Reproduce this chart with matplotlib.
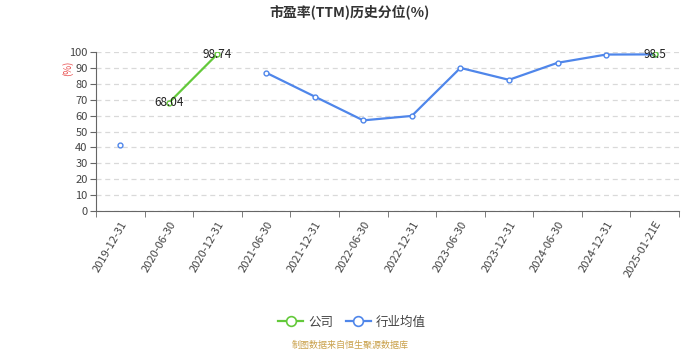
import matplotlib
matplotlib.use("Agg")
import matplotlib.pyplot as plt
import numpy as np

plt.rcParams['font.family'] = ['Noto Sans CJK SC', 'DejaVu Sans']

categories = ["2019-12-31", "2020-06-30", "2020-12-31", "2021-06-30", "2021-12-31",
              "2022-06-30", "2022-12-31", "2023-06-30", "2023-12-31", "2024-06-30",
              "2024-12-31", "2025-01-21E"]
company = [None, 68.04, 98.74, None, None, None, None, None, None, None, None, 98.5]
industry = [41.5, None, None, 87.0, 72.0, 57.0, 59.8, 90.0, 82.5, 93.2, 98.4, 98.5]
company_labels = {1: "68.04", 2: "98.74", 11: "98.5"}
yticks = list(range(0, 101, 10))

green = '#63C93A'
blue = '#4F86EA'

def to_arr(v):
    return np.array([np.nan if x is None else x for x in v], dtype=float)

fig = plt.figure(figsize=(7, 3.5), dpi=100)
ax = fig.add_axes([96/700, 1-211/350, (679-96)/700, (211-52)/350])

x = np.arange(len(categories))
ind = to_arr(industry)
com = to_arr(company)

ax.plot(x, ind, color=blue, lw=1.6, marker='o', ms=3.5, mfc='white', mec=blue, mew=1, zorder=3)
ax.plot(x, com, color=green, lw=1.6, marker='o', ms=3.5, mfc='white', mec=green, mew=1, zorder=4)
for i, t in company_labels.items():
    ax.text(x[i], com[i], t, ha='center', va='center', fontsize=8.5, color='#222222', zorder=5)

ax.set_xlim(-0.5, len(categories)-0.5)
ax.set_ylim(0, 100)
ax.set_yticks(yticks)
ax.set_yticklabels([str(v) for v in yticks], fontsize=8, color='#444444')
ax.set_xticks(x)
ax.set_xticklabels(categories, rotation=60, ha='right', rotation_mode='anchor', fontsize=8, color='#444444')
ax.tick_params(axis='x', length=0, pad=6)
ax.set_xticks(np.arange(-0.5, len(categories)), minor=True)
ax.tick_params(axis='x', which='minor', length=4, color='#666666')
ax.tick_params(axis='y', length=4, color='#666666', pad=2)

ax.yaxis.grid(True, linestyle=(0, (4, 3)), color='#d9d9d9', lw=0.9)
ax.set_axisbelow(True)
for s in ['top', 'right']:
    ax.spines[s].set_visible(False)
ax.spines['left'].set_color('#666666')
ax.spines['bottom'].set_color('#666666')

fig.text(350/700, 1-12/350, "市盈率(TTM)历史分位(%)", ha='center', va='center', fontsize=10, fontweight='bold', color='#333333')
fig.text(68/700, 1-68/350, "(%)", ha='center', va='center', rotation=90, fontsize=7, color='#E84B4B')

from matplotlib.lines import Line2D
handles = [Line2D([], [], color=green, lw=1.6, marker='o', ms=7, mfc='white', mec=green, mew=1.2),
           Line2D([], [], color=blue, lw=1.6, marker='o', ms=7, mfc='white', mec=blue, mew=1.2)]
fig.legend(handles, ["公司", "行业均值"], loc='center', bbox_to_anchor=(352/700, 1-322/350),
           ncol=2, frameon=False, fontsize=9, handlelength=2.0, columnspacing=1.0, handletextpad=0.4,
           labelcolor='#444444')
fig.text(350/700, 1-345/350, "制图数据来自恒生聚源数据库", ha='center', va='center', fontsize=6.5, color='#C9A04A')

fig.savefig("out.png", dpi=100)
